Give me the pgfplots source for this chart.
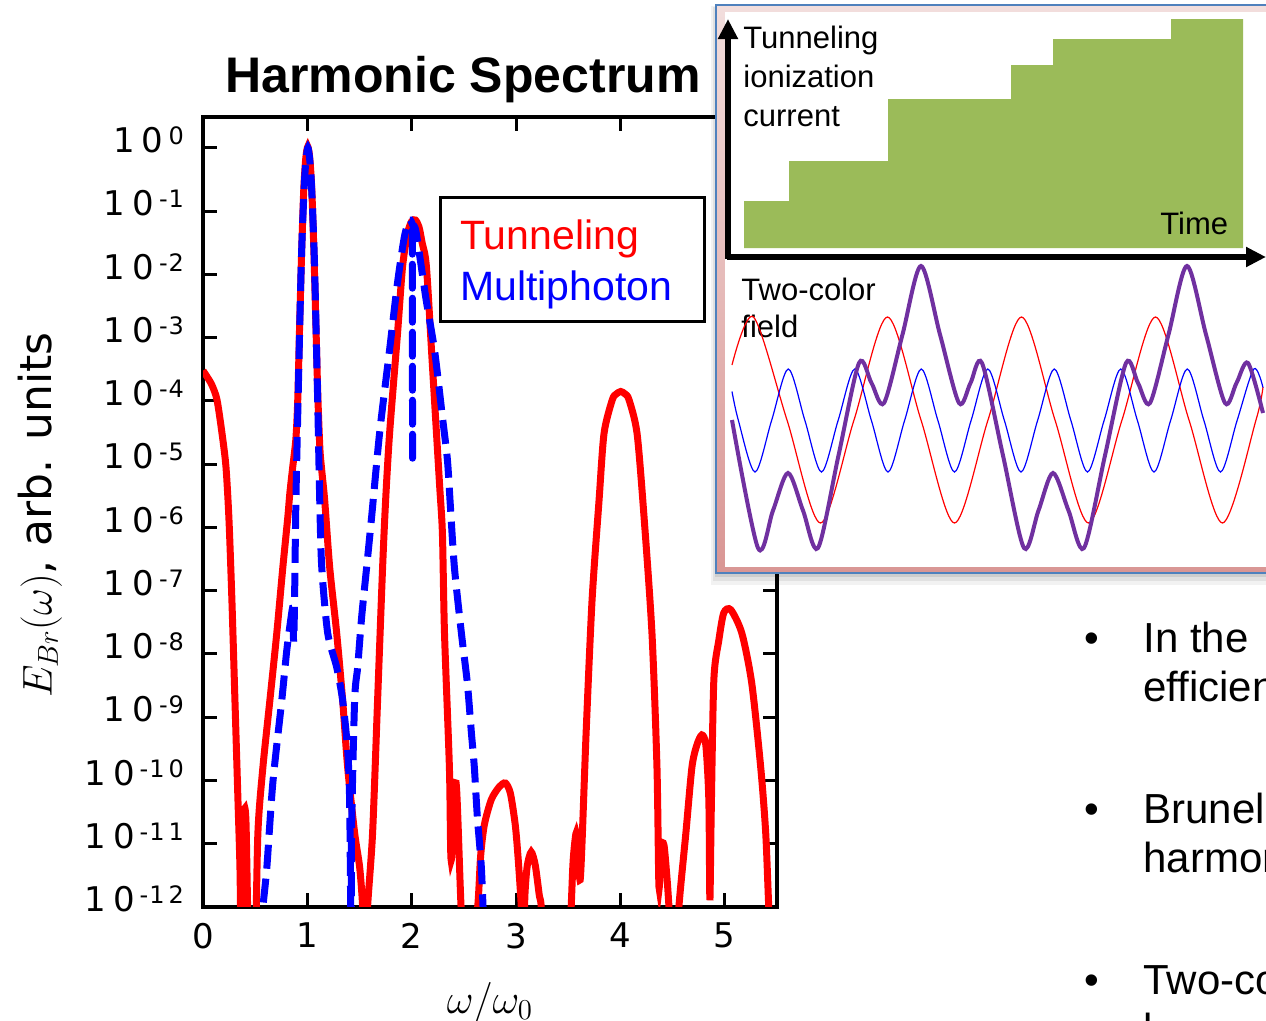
\documentclass[border=0pt]{standalone}
\usepackage{fontspec}
\setmainfont{Liberation Sans}
\newfontfamily\dejavu{DejaVu Sans}
\usepackage{pgfplots}
\pgfplotsset{compat=1.18}
\usetikzlibrary{arrows.meta}

\definecolor{stepgreen}{RGB}{155,187,89}
\definecolor{insetblue}{RGB}{79,129,189}
\definecolor{pinklight}{RGB}{242,222,221}
\definecolor{pinkdark}{RGB}{217,150,148}
\definecolor{fieldpurple}{RGB}{112,48,160}

% y tick label: spaced "1 0" with a raised exponent
\newcommand\ytl[1]{1\kern3.5pt0\kern2.5pt\raisebox{4pt}{\fontsize{12}{12}\selectfont #1}}

\begin{document}
\begin{tikzpicture}
\path[use as bounding box] (0pt,0pt) rectangle (633pt,-510.5pt);
\clip (0pt,0pt) rectangle (633pt,-510.5pt);

% ---------------- harmonic spectrum (log10 of the amplitude) ----------------
\begin{axis}[
    at={(101.5pt,-453.5pt)}, anchor=south west,
    scale only axis, width=287pt, height=395pt,
    xmin=0, xmax=5.5, ymin=-12, ymax=0.49,
    xtick={0,1,2,3,4,5}, xticklabels={0,1,2,3,4,5},
    ytick={-12,-11,...,0},
    yticklabels={\ytl{-\kern0.5pt1\kern2pt2},\ytl{-\kern0.5pt1\kern2pt1},\ytl{-\kern0.5pt1\kern2pt0},
                 \ytl{-\kern0.5pt9},\ytl{-\kern0.5pt8},\ytl{-\kern0.5pt7},\ytl{-\kern0.5pt6},\ytl{-\kern0.5pt5},
                 \ytl{-\kern0.5pt4},\ytl{-\kern0.5pt3},\ytl{-\kern0.5pt2},\ytl{-\kern0.5pt1},\ytl{0}},
    xtick pos=both, ytick pos=both,
    xticklabel pos=bottom, yticklabel pos=left,
    tick align=inside, major tick length=7pt,
    tick style={black, line width=1.5pt},
    axis line style={line width=2pt},
    xticklabel style={font=\dejavu\fontsize{17}{17}\selectfont, yshift=-4.5pt},
    yticklabel style={font=\dejavu\fontsize{17}{17}\selectfont, xshift=-6pt, yshift=4pt},
]
% tunneling
\addplot[red, line width=3.5pt, smooth, tension=0.45] coordinates {
(0.000,-3.52) (0.040,-3.62) (0.086,-3.75) (0.134,-3.98) (0.182,-4.51) (0.220,-5.04)
(0.249,-5.88) (0.277,-7.15) (0.306,-8.73) (0.335,-10.31) (0.354,-11.37) (0.365,-12.60)
(0.378,-12.80) (0.392,-10.62) (0.412,-10.66) (0.440,-12.80) (0.495,-13.0)
(0.526,-10.83) (0.574,-9.79) (0.641,-8.73) (0.707,-7.67) (0.765,-6.63) (0.813,-5.83)
(0.832,-5.46) (0.860,-5.04) (0.890,-4.60) (0.908,-3.98) (0.926,-2.80) (0.946,-1.60)
(0.966,-0.64) (0.985,-0.16) (1.004,0.02) (1.023,-0.16) (1.042,-0.64) (1.062,-1.60)
(1.082,-2.80) (1.100,-3.90) (1.120,-4.75) (1.138,-5.10) (1.166,-5.57) (1.214,-6.63)
(1.281,-7.67) (1.338,-8.73) (1.386,-9.79) (1.453,-10.83) (1.501,-11.37) (1.530,-12.0)
(1.553,-13.0) (1.577,-12.0) (1.625,-10.83) (1.673,-8.73) (1.721,-6.63) (1.750,-5.57)
(1.788,-4.51) (1.864,-2.93) (1.912,-1.88) (1.960,-1.35) (2.000,-1.16) (2.036,-1.14)
(2.070,-1.25) (2.100,-1.50) (2.141,-1.88) (2.199,-3.46) (2.266,-5.30) (2.294,-6.09)
(2.314,-7.67) (2.361,-9.79) (2.378,-11.26) (2.425,-10.04) (2.473,-12.0) (2.520,-13.0)
(2.560,-13.0) (2.632,-12.0) (2.660,-11.20) (2.696,-10.70) (2.763,-10.30) (2.839,-10.10)
(2.897,-10.04) (2.945,-10.20) (2.992,-10.70) (3.021,-11.26) (3.050,-12.0) (3.062,-12.6)
(3.072,-12.6) (3.085,-11.80) (3.107,-11.35) (3.145,-11.13) (3.184,-11.34) (3.222,-11.81)
(3.241,-12.0) (3.270,-13.0) (3.500,-13.0) (3.528,-12.0) (3.547,-11.26) (3.576,-10.83)
(3.595,-11.26) (3.614,-11.57) (3.633,-10.94) (3.671,-9.25) (3.728,-7.15) (3.795,-5.57)
(3.843,-4.51) (3.922,-3.98) (3.960,-3.89) (4.003,-3.85) (4.045,-3.89) (4.082,-3.98)
(4.159,-4.51) (4.226,-5.83) (4.302,-7.67) (4.350,-9.79) (4.369,-11.68) (4.388,-11.05)
(4.417,-11.02) (4.446,-11.54) (4.465,-12.0) (4.500,-13.0) (4.530,-13.0) (4.560,-12.0)
(4.627,-10.83) (4.685,-9.79) (4.732,-9.44) (4.780,-9.28) (4.818,-9.44) (4.847,-10.31)
(4.857,-11.89) (4.870,-10.50) (4.895,-8.41) (4.943,-7.78) (4.990,-7.35) (5.057,-7.30)
(5.163,-7.67) (5.258,-8.46) (5.344,-9.79) (5.392,-10.83) (5.421,-12.0) (5.450,-13.0)
};
% multiphoton
\addplot[blue, line width=3.5pt, dash pattern=on 12pt off 5pt, smooth, tension=0.45] coordinates {
(0.520,-13.0) (0.574,-12.0) (0.612,-11.37) (0.669,-10.04) (0.755,-8.73) (0.803,-7.94)
(0.850,-7.35) (0.862,-7.30) (0.868,-7.80) (0.876,-7.30) (0.890,-5.60) (0.911,-3.98)
(0.943,-1.75) (0.975,-0.45) (1.005,0.00) (1.035,-0.45) (1.067,-1.75) (1.099,-4.00)
(1.119,-5.60) (1.138,-6.63) (1.195,-7.67) (1.281,-8.21) (1.338,-8.73) (1.386,-9.52)
(1.405,-10.31) (1.415,-12.0) (1.420,-12.8) (1.424,-10.78) (1.453,-8.73) (1.482,-8.21)
(1.520,-7.42) (1.568,-6.63) (1.616,-5.83) (1.692,-4.51) (1.788,-3.19) (1.864,-2.13)
(1.930,-1.40) (1.979,-1.14) (2.010,-1.22) (2.043,-1.34)
(2.138,-2.40) (2.218,-3.19) (2.294,-4.25) (2.342,-4.93) (2.370,-5.65) (2.409,-6.63)
(2.476,-7.67) (2.533,-8.46) (2.572,-9.25) (2.600,-9.79) (2.629,-10.58) (2.667,-11.37)
(2.690,-12.3)
};
% the narrow dip of the multiphoton curve near the second harmonic
\addplot[blue, line width=3.5pt, dash pattern=on 12pt off 5pt, line cap=round] coordinates {
(2.006,-1.30) (2.008,-5.06)
};
\end{axis}

% ---------------- overlay in picture pixels: labels, legend, inset, text ----------------
\begin{axis}[
    at={(0pt,-510.5pt)}, anchor=south west,
    scale only axis, width=633pt, height=510.5pt,
    xmin=0, xmax=1266, ymin=0, ymax=1021, y dir=reverse,
    axis lines=none, clip=true,
]
% title and axis labels
\node[anchor=base, inner sep=0, font=\bfseries\fontsize{25}{25}\selectfont]
  at (axis cs:463,92) {Harmonic Spectrum};
\node[rotate=90, inner sep=0, font=\fontsize{22}{22}\selectfont]
  at (axis cs:40,515) {$E_{Br}(\omega)$\dejavu, arb. units};
\node[anchor=base, inner sep=0, font=\fontsize{22}{22}\selectfont]
  at (axis cs:490,1013) {$\omega/\omega_0$};

% legend
\draw[line width=1.5pt, fill=white] (axis cs:440,197) rectangle (axis cs:704,321);
\node[anchor=base west, inner sep=0, text=red, font=\fontsize{20.5}{20.5}\selectfont]
  at (axis cs:460,249) {Tunneling};
\node[anchor=base west, inner sep=0, text=blue, font=\fontsize{20.5}{20.5}\selectfont]
  at (axis cs:460,300) {Multiphoton};

% inset frame with shadow
\fill[black, opacity=0.05] (axis cs:711,6) rectangle (axis cs:1300,585);
\fill[black, opacity=0.07] (axis cs:713,7) rectangle (axis cs:1300,581);
\fill[black, opacity=0.09] (axis cs:715,8) rectangle (axis cs:1300,577);
\path[draw=insetblue, line width=0.9pt, top color=pinklight, bottom color=pinkdark]
  (axis cs:716,5) rectangle (axis cs:1300,573);
\fill[white] (axis cs:725,12) rectangle (axis cs:1300,567);

% tunneling ionization current: steps
\addplot[fill=stepgreen, draw=none] coordinates {
(744,248) (744,201) (789,201) (789,161) (888,161) (888,99) (1011,99) (1011,65)
(1053,65) (1053,39) (1171,39) (1171,19) (1243,19) (1243,248)
};
\draw[line width=2.6pt, -{Triangle[length=10pt,width=9.5pt]}]
  (axis cs:728,259) -- (axis cs:728,19);
\draw[line width=2.6pt, -{Triangle[length=10pt,width=9.5pt]}]
  (axis cs:727,257) -- (axis cs:1266,257);
\begin{scope}[every node/.style={anchor=base west, inner sep=0, font=\fontsize{15.5}{15.5}\selectfont}]
\node at (axis cs:743,48) {Tunneling};
\node at (axis cs:743,87) {ionization};
\node at (axis cs:743,126) {current};
\node at (axis cs:1160,234) {Time};
\node at (axis cs:741,300) {Two-color};
\node at (axis cs:741,337) {field};
\end{scope}

% two-color field
\addplot[red, line width=0.6pt, smooth] coordinates {
(732,365) (753.5,317) (787,420) (820.5,523) (854,420) (887.5,317) (921,420)
(954.5,523) (988,420) (1021.5,317) (1055,420) (1088.5,523) (1122,420) (1155.5,317)
(1189,420) (1222.5,523) (1256,420) (1263,387)
};
\addplot[blue, line width=0.6pt, smooth] coordinates {
(732,391.5) (738.4,420.5) (755.0,472) (771.6,420.5) (788.3,369) (804.9,420.5)
(821.5,472) (838.1,420.5) (854.8,369) (871.4,420.5) (888.0,472) (904.6,420.5)
(921.3,369) (937.9,420.5) (954.5,472) (971.1,420.5) (987.8,369) (1004.4,420.5)
(1021.0,472) (1037.6,420.5) (1054.3,369) (1070.9,420.5) (1087.5,472) (1104.1,420.5)
(1120.8,369) (1137.4,420.5) (1154.0,472) (1170.6,420.5) (1187.3,369) (1203.9,420.5)
(1220.5,472) (1237.1,420.5) (1253.8,369) (1263,387.5)
};
\addplot[fieldpurple, line width=2pt, smooth] coordinates {
(732,420) (758,548) (773,510.5) (788,473) (803,510.5) (818,548) (838.5,455.5)
(859,363) (871.5,383) (884,403) (902.5,334.5) (921,266) (940,334.5) (959,403)
(970.5,383) (982,363) (1003,455.5) (1024,548) (1038.5,510.5) (1053,473) (1068.5,510.5)
(1084,548) (1105,455.5) (1126,363) (1138,383) (1150,403) (1168.5,334.5) (1187,266)
(1206,334.5) (1225,403) (1236.5,383) (1248,363) (1263,413)
};

% slide text, cut by the right edge
\begin{scope}[every node/.style={inner sep=0, font=\fontsize{21}{21}\selectfont}]
\node[anchor=base] at (axis cs:1092,652) {\textbullet};
\node[anchor=base west] at (axis cs:1143,652) {In the};
\node[anchor=base west] at (axis cs:1143,701) {efficient};
\node[anchor=base] at (axis cs:1092,823) {\textbullet};
\node[anchor=base west] at (axis cs:1143,823) {Brunel};
\node[anchor=base west] at (axis cs:1143,872) {harmonic};
\node[anchor=base] at (axis cs:1092,994) {\textbullet};
\node[anchor=base west] at (axis cs:1143,994) {Two-color};
\node[anchor=base west] at (axis cs:1143,1043) {l};
\end{scope}
\end{axis}
\end{tikzpicture}
\end{document}
